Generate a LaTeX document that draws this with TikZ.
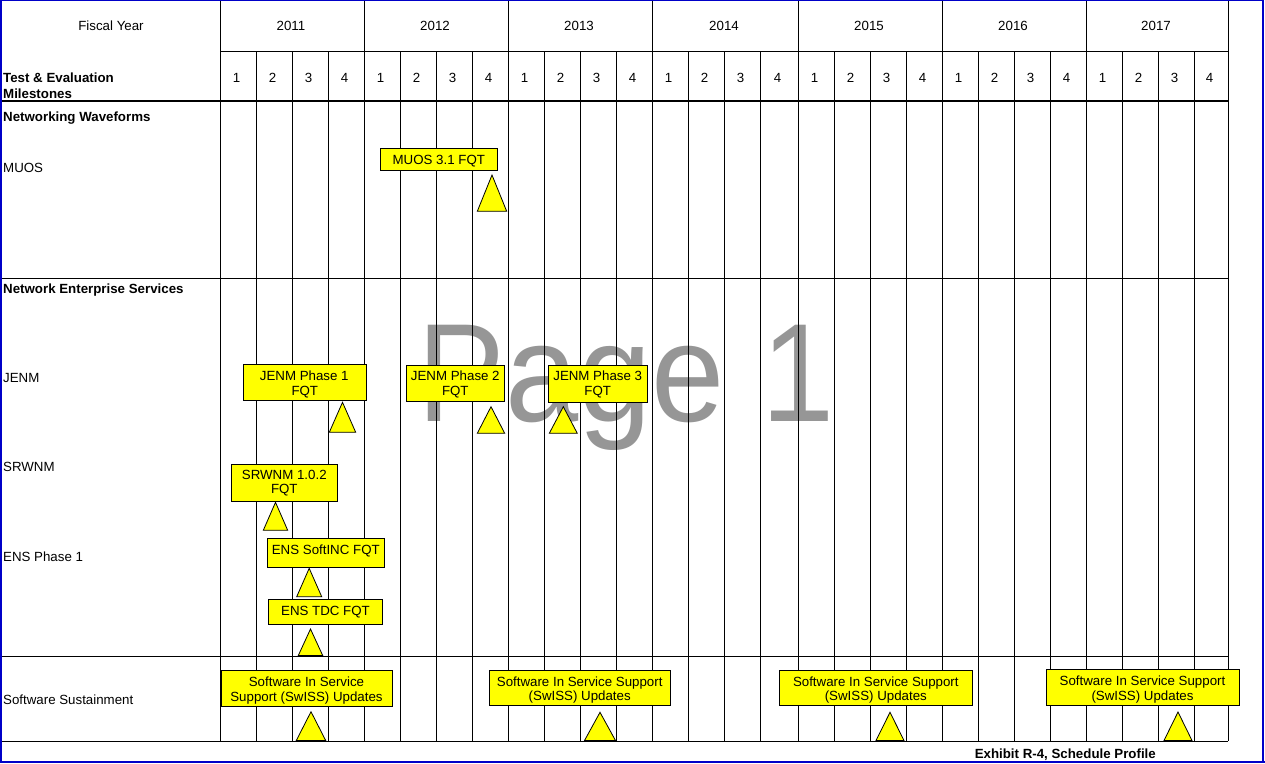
\documentclass[tikz,border=0pt]{standalone}
\usepackage{fontspec}
\setmainfont{Liberation Sans}
\definecolor{frameblue}{RGB}{0,0,200}
\definecolor{msyellow}{RGB}{255,255,0}
\definecolor{wmgray}{RGB}{150,150,150}
\begin{document}
\begin{tikzpicture}[x=1pt,y=-1pt,
  font=\fontsize{13.3}{15}\selectfont,
  grid/.style={line width=0.9pt, black},
  thickgrid/.style={line width=2pt, black},
  ctr/.style={inner sep=0pt, anchor=base},
  lbl/.style={inner sep=0pt, anchor=base west},
  hdr/.style={inner sep=0pt, anchor=base west, font=\fontsize{13.3}{15}\selectfont\bfseries},
  mbox/.style={draw, fill=msyellow, line width=0.9pt, inner sep=0pt},
  btxt/.style={inner sep=0pt, anchor=base},
  tri/.style={draw, fill=msyellow, line width=0.8pt, line join=miter}]
\useasboundingbox (0,0) rectangle (1265,763);
% watermark
\node[inner sep=0pt, anchor=base west, text=wmgray, font=\fontsize{140}{140}\selectfont] (wm) at (417.5,421) {\scalebox{0.94}[1]{Page 1}};
% grid
\foreach \x in {256,292,328,400,436,472,544,580,616,688,724,760,834,870,906,978,1014,1050,1122,1158,1194}
  \draw[grid] (\x,51) -- (\x,741);
\foreach \x in {220,364,508,652,798,942,1086,1228}
  \draw[grid] (\x,0) -- (\x,741);
\draw[grid] (220,51) -- (1228,51);
\draw[thickgrid] (1,101) -- (1228,101);
\foreach \y in {278,656,741}
  \draw[grid] (1,\y) -- (1228,\y);
% frame
\draw[frameblue, line width=1.2pt] (1,0.8) -- (1,761) ;
\draw[frameblue, line width=1.2pt] (0,0.8) -- (1264,0.8);
\draw[frameblue, line width=2.2pt] (1263,0) -- (1263,763);
\draw[frameblue, line width=2.2pt] (0,762) -- (1265,762);
% header
\node[ctr] (fy) at (111,30.4) {Fiscal Year};
\foreach \a/\b/\yr in {220/364/2011,364/508/2012,508/652/2013,652/798/2014,798/942/2015,942/1086/2016,1086/1228/2017}
  \node[ctr] (y\yr) at ({(\a+\b)/2-1},30.4) {\yr};
\foreach \a/\b/\q [count=\i] in {220/256/1,256/292/2,292/328/3,328/364/4,
  364/400/1,400/436/2,436/472/3,472/508/4,
  508/544/1,544/580/2,580/616/3,616/652/4,
  652/688/1,688/724/2,724/760/3,760/798/4,
  798/834/1,834/870/2,870/906/3,906/942/4,
  942/978/1,978/1014/2,1014/1050/3,1050/1086/4,
  1086/1122/1,1122/1158/2,1158/1194/3,1194/1228/4}
  \node[ctr] (q\i) at ({(\a+\b)/2-1.5},82.2) {\q};
\node[hdr] (te1) at (3,82) {Test \& Evaluation};
\node[hdr] (te2) at (3,98) {Milestones};
% left column
\node[hdr] (nw) at (3,121.7) {Networking Waveforms};
\node[lbl] (muos) at (3,172.7) {MUOS};
\node[hdr] (nes) at (3,293.3) {Network Enterprise Services};
\node[lbl] (jenm) at (3,382.7) {JENM};
\node[lbl] (srwnm) at (3,471.7) {SRWNM};
\node[lbl] (ens) at (3,561.7) {ENS Phase 1};
\node[lbl] (ss) at (3,704.3) {Software Sustainment};
% milestone triangles
\foreach \cx/\ap/\bs/\hw in {492/175/211.3/14.7, 342.5/402.3/432.3/13.2, 491/406.7/433.3/13.7,
  563.3/406.7/433.3/14, 275.5/502.3/530.3/12.2, 309.2/568.3/596.7/12.5, 310.5/629/655.5/12.2,
  311/711.7/740.5/14.7, 600/712.3/740.5/15.5, 890/712.3/740.5/14, 1178/712/740.5/14}
  \draw[tri] (\cx-\hw,\bs) -- (\cx,\ap) -- (\cx+\hw,\bs) -- cycle;
% milestone boxes
\node[mbox, minimum width=117pt, minimum height=22pt] (bmuos) at (438.8,159.3) {};
\node[btxt] (tmuos) at (438.8,164) {MUOS 3.1 FQT};
\node[mbox, minimum width=123pt, minimum height=36pt] (bj1) at (304.8,382.3) {};
\node[btxt] (tj1a) at (304.3,380) {JENM Phase 1};
\node[btxt] (tj1b) at (304.8,395) {FQT};
\node[mbox, minimum width=98pt, minimum height=36pt] (bj2) at (455.3,383.3) {};
\node[btxt] (tj2a) at (455.3,380.7) {JENM Phase 2};
\node[btxt] (tj2b) at (455.3,395.7) {FQT};
\node[mbox, minimum width=98.7pt, minimum height=36.7pt] (bj3) at (597.7,384) {};
\node[btxt] (tj3a) at (597.7,380.5) {JENM Phase 3};
\node[btxt] (tj3b) at (597.7,395.5) {FQT};
\node[mbox, minimum width=106pt, minimum height=37pt] (bsr) at (284.3,482.8) {};
\node[btxt] (tsra) at (284.3,479.3) {SRWNM 1.0.2};
\node[btxt] (tsrb) at (284.3,493.7) {FQT};
\node[mbox, minimum width=117pt, minimum height=29pt] (bsi) at (325.8,552.8) {};
\node[btxt] (tsi) at (325.8,554) {ENS SoftINC FQT};
\node[mbox, minimum width=114.3pt, minimum height=25pt] (btdc) at (325.5,611.8) {};
\node[btxt] (ttdc) at (325.5,615.7) {ENS TDC FQT};
\node[mbox, minimum width=171.3pt, minimum height=35.3pt] (bsw1) at (307,688.3) {};
\node[btxt] (tsw1a) at (306.5,686.3) {Software In Service};
\node[btxt] (tsw1b) at (306.5,701) {Support (SwISS) Updates};
\node[mbox, minimum width=181pt, minimum height=35pt] (bsw2) at (579.7,687.7) {};
\node[btxt] (tsw2a) at (579.7,686) {Software In Service Support};
\node[btxt] (tsw2b) at (579.7,700.5) {(SwISS) Updates};
\node[mbox, minimum width=193pt, minimum height=35.5pt] (bsw3) at (875.8,688) {};
\node[btxt] (tsw3a) at (875.8,686) {Software In Service Support};
\node[btxt] (tsw3b) at (875.8,700.5) {(SwISS) Updates};
\node[mbox, minimum width=193pt, minimum height=36.5pt] (bsw4) at (1142.5,687.5) {};
\node[btxt] (tsw4a) at (1142.5,685.7) {Software In Service Support};
\node[btxt] (tsw4b) at (1142.5,700) {(SwISS) Updates};
% footer
\node[inner sep=0pt, anchor=base east, font=\fontsize{13.3}{15}\selectfont\bfseries] (ex) at (1156,758) {Exhibit R-4, Schedule Profile};
\end{tikzpicture}
\end{document}
